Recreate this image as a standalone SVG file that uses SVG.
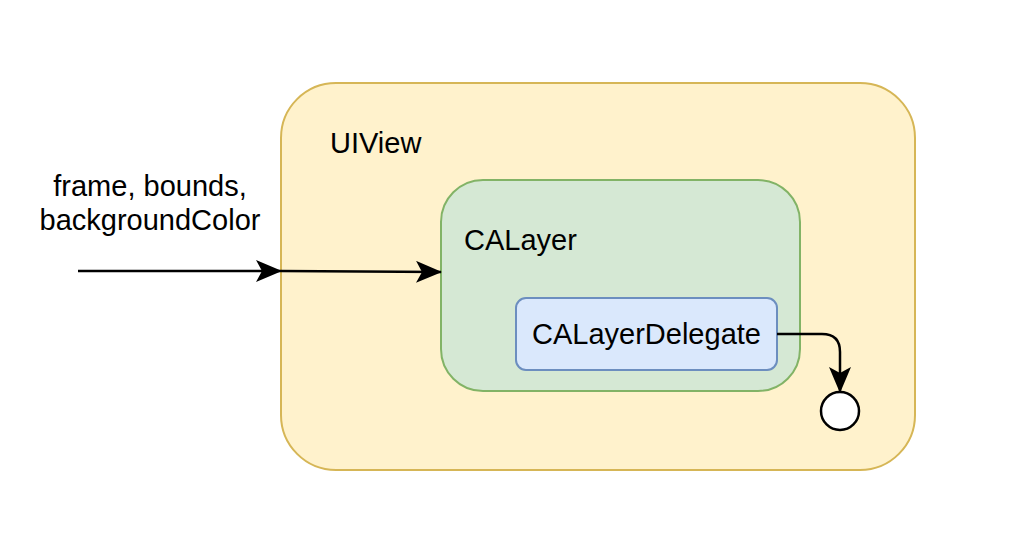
<svg xmlns="http://www.w3.org/2000/svg" width="1024" height="538" viewBox="0 0 1024 538">
<style>
text{font-family:"Liberation Sans",Arial,sans-serif;font-size:29px;fill:#000}
.edge{fill:none;stroke:#000;stroke-width:2.5}
</style>
<defs>
<marker id="arr" viewBox="0 0 26 22" refX="25" refY="11" markerWidth="26" markerHeight="22" markerUnits="userSpaceOnUse" orient="auto">
<path d="M0,0 L26,11 L0,22 L6,11 Z" fill="#000"/>
</marker>
</defs>
<rect width="1024" height="538" fill="#fff"/>
<g id="uiview">
<rect x="281" y="83" width="634" height="387" rx="55" ry="55" fill="#fff2cc" stroke="#d6b656" stroke-width="2"/>
<text x="330" y="153">UIView</text>
</g>
<g id="calayer">
<rect x="441" y="180" width="359" height="211" rx="42" ry="42" fill="#d5e8d4" stroke="#82b366" stroke-width="2"/>
<text x="464" y="250">CALayer</text>
</g>
<g id="delegate">
<rect x="516" y="298" width="261" height="72" rx="10" ry="10" fill="#dae8fc" stroke="#6c8ebf" stroke-width="2"/>
<text x="646.5" y="344" text-anchor="middle">CALayerDelegate</text>
</g>
<g id="end">
<circle cx="840" cy="411" r="19" fill="#fff" stroke="#000" stroke-width="2.5"/>
</g>
<g id="label">
<text x="150" y="196" text-anchor="middle">frame, bounds,</text>
<text x="150" y="230" text-anchor="middle">backgroundColor</text>
</g>
<g id="connectors">
<path class="edge" d="M78,271 L281,271" marker-end="url(#arr)"/>
<path class="edge" d="M281,271 L441,272" marker-end="url(#arr)"/>
<path class="edge" d="M777,334 L822,334 Q840,334 840,352 L840,392" marker-end="url(#arr)"/>
</g>
</svg>
